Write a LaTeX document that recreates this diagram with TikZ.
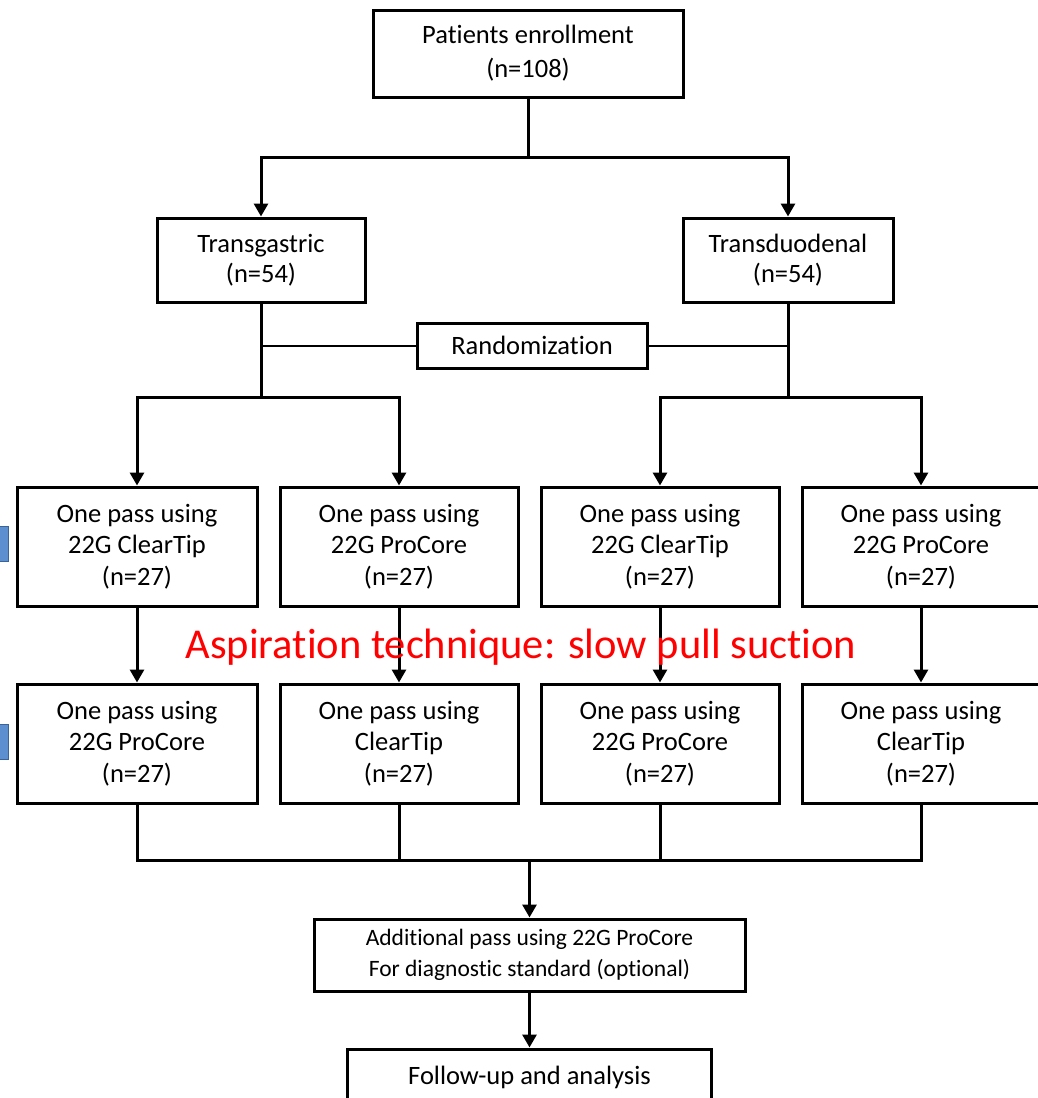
\documentclass[tikz,border=0pt]{standalone}
\usepackage{fontspec}
\setmainfont[Ligatures={NoCommon}]{Carlito}
\usetikzlibrary{arrows.meta}
\definecolor{tabblue}{HTML}{5B8FCF}
\definecolor{tabblueedge}{HTML}{3A6499}
\begin{document}
\begin{tikzpicture}[x=1pt,y=-1pt,
  box/.style={draw, line width=3pt, align=center, inner sep=0pt,
    font=\fontsize{26.5}{31.5}\selectfont},
  smallbox/.style={box, font=\fontsize{23.5}{31}\selectfont},
  link/.style={line width=3pt},
  thinlink/.style={line width=2pt},
  arr/.style={line width=3pt, -{Triangle[width=14pt,length=13pt]}},
  tab/.style={fill=tabblue, draw=tabblueedge, line width=1pt}]
\useasboundingbox (0,0) rectangle (1037,1098);
% boxes
\node[box, minimum width=310pt, minimum height=87pt, font=\fontsize{26.5}{34}\selectfont] (top) at (528,53.5) {Patients enrollment\\(n=108)};
\node[box, minimum width=208pt, minimum height=84pt, font=\fontsize{26.5}{30}\selectfont] (tg) at (261,260) {Transgastric\\(n=54)};
\node[box, minimum width=210pt, minimum height=84pt, font=\fontsize{26.5}{30}\selectfont] (td) at (788,260) {Transduodenal\\(n=54)};
\node[box, minimum width=230pt, minimum height=45pt] (rand) at (532,345.5) {Randomization};
\node[box, minimum width=240pt, minimum height=119pt] (a1) at (137,546.5) {One pass using\\22G ClearTip\\(n=27)};
\node[box, minimum width=238pt, minimum height=119pt] (a2) at (399,546.5) {One pass using\\22G ProCore\\(n=27)};
\node[box, minimum width=238pt, minimum height=119pt] (a3) at (660,546.5) {One pass using\\22G ClearTip\\(n=27)};
\node[box, minimum width=238pt, minimum height=119pt] (a4) at (921,546.5) {One pass using\\22G ProCore\\(n=27)};
\node[box, minimum width=240pt, minimum height=119pt] (b1) at (137,743.5) {One pass using\\22G ProCore\\(n=27)};
\node[box, minimum width=238pt, minimum height=119pt] (b2) at (399,743.5) {One pass using\\ClearTip\\(n=27)};
\node[box, minimum width=238pt, minimum height=119pt] (b3) at (660,743.5) {One pass using\\22G ProCore\\(n=27)};
\node[box, minimum width=238pt, minimum height=119pt] (b4) at (921,743.5) {One pass using\\ClearTip\\(n=27)};
\node[smallbox, minimum width=431pt, minimum height=72pt] (add) at (529.5,955) {Additional pass using 22G ProCore\\For diagnostic standard (optional)};
\node[box, minimum width=364pt, minimum height=62pt] (fu) at (529.5,1080) {};
\node[font=\fontsize{26.5}{31}\selectfont, inner sep=0pt] (futext) at (529.5,1077) {Follow-up and analysis};
% junctions
\coordinate (j1) at (528,157);
\coordinate (jl) at (261,397);
\coordinate (jr) at (788,397);
\coordinate (jb) at (529.5,860);
% connectors
\draw[link] (top.south) -- (j1);
\draw[arr] (j1) -| (tg.north);
\draw[arr] (j1) -| (td.north);
\draw[link] (tg.south) -- (jl);
\draw[link] (td.south) -- (jr);
\draw[thinlink] (rand.west) -- (rand.west -| tg.south);
\draw[thinlink] (rand.east) -- (rand.east -| td.south);
\draw[arr] (jl) -| (a1.north);
\draw[arr] (jl) -| (a2.north);
\draw[arr] (jr) -| (a3.north);
\draw[arr] (jr) -| (a4.north);
\draw[arr] (a1.south) -- (b1.north);
\draw[arr] (a2.south) -- (b2.north);
\draw[arr] (a3.south) -- (b3.north);
\draw[arr] (a4.south) -- (b4.north);
\draw[link] (b1.south) |- (jb) -| (b4.south);
\draw[link] (b2.south) -- (b2.south |- jb);
\draw[link] (b3.south) -- (b3.south |- jb);
\draw[arr] (jb) -- (add.north);
\draw[arr] (add.south) -- (fu.north);
% annotation
\node[text=red, font=\fontsize{42.5}{48}\selectfont, inner sep=0pt] (asp) at (521,647) {Aspiration technique: slow pull suction};
% side tabs
\draw[tab] (-5,526) rectangle (8,561);
\draw[tab] (-5,724) rectangle (8,759);
\end{tikzpicture}
\end{document}
